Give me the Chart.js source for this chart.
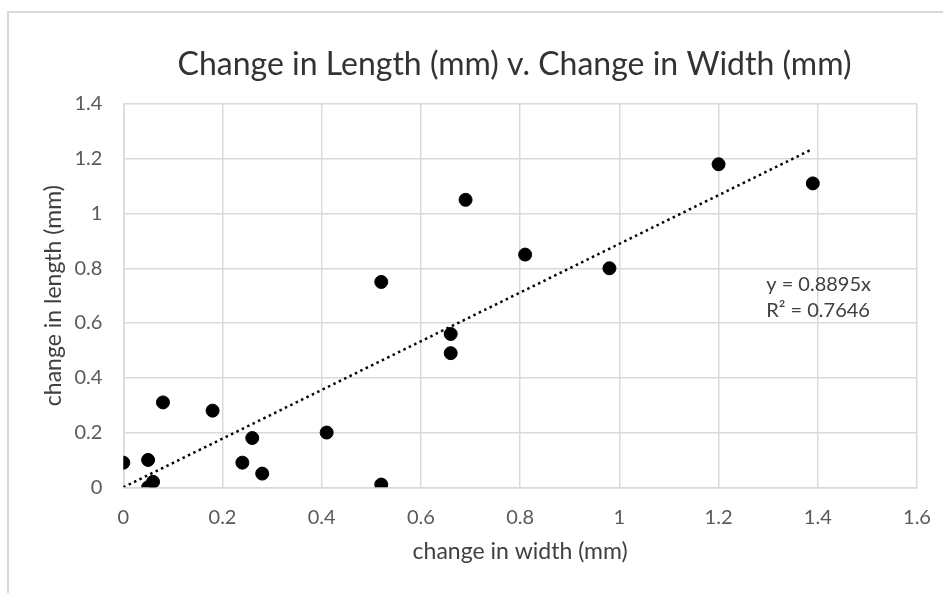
<!DOCTYPE html>
<html>
<head>
<meta charset="utf-8">
<script src="https://cdn.jsdelivr.net/npm/chart.js@4.4.0/dist/chart.umd.min.js"></script>
<style>
    html, body { margin: 0; padding: 0; background: #fff; overflow: hidden; }
    #frame {
        position: absolute; left: 7px; top: 11px; width: 960px; height: 600px;
        border-left: 2px solid #d9d9d9; border-top: 2px solid #d9d9d9;
    }
    #wrap { position: absolute; left: 0; top: 0; width: 943px; height: 593px; }
</style>
</head>
<body>
<div id="frame"></div>
<div id="wrap"><canvas id="scatterChart" width="943" height="593"></canvas></div>
<script>
// --- DATA ---
const widthChange  = [0, 0.05, 0.05, 0.06, 0.08, 0.18, 0.24, 0.26, 0.28, 0.41, 0.52, 0.52, 0.66, 0.66, 0.69, 0.81, 0.98, 1.20, 1.39];
const lengthChange = [0.09, 0.10, 0.00, 0.02, 0.31, 0.28, 0.09, 0.18, 0.05, 0.20, 0.75, 0.01, 0.56, 0.49, 1.05, 0.85, 0.80, 1.18, 1.11];

// linear trendline (through origin), ends
const trendX = [0, 1.39];
const trendY = [0, 1.236];

const xTickLabels = ['0', '0.2', '0.4', '0.6', '0.8', '1', '1.2', '1.4', '1.6'];
const yTickLabels = ['0', '0.2', '0.4', '0.6', '0.8', '1', '1.2', '1.4'];

const chartTitle = 'Change in Length (mm) v. Change in Width (mm)';
const equationLines = ['y = 0.8895x', 'R\u00B2 = 0.7646'];
const equationAt = { x: 1.296, y: [0.742, 0.647] };

const FONT = "Lato, 'Open Sans', sans-serif";

// --- PLUGIN: title + trendline equation text ---
const textLabels = {
    id: 'textLabels',
    afterDatasetsDraw(chart) {
        const { ctx, scales } = chart;
        ctx.save();
        // title (Excel centres it a bit left of the plot centre)
        ctx.font = "32px " + FONT;
        ctx.fillStyle = '#333';
        ctx.textAlign = 'center';
        ctx.textBaseline = 'middle';
        ctx.fillText(chartTitle, 514.5, 65);

        ctx.font = "20px " + FONT;
        ctx.fillStyle = '#404040';
        ctx.textAlign = 'left';
        equationLines.forEach((line, i) => {
            ctx.fillText(line, scales.x.getPixelForValue(equationAt.x), scales.y.getPixelForValue(equationAt.y[i]));
        });
        ctx.restore();
    }
};

// --- CHART ---
const ctx = document.getElementById('scatterChart').getContext('2d');
const gridStyle = { color: '#d9d9d9', lineWidth: 1.5, drawTicks: false };

new Chart(ctx, {
    type: 'scatter',
    data: {
        datasets: [{
            label: 'change',
            data: widthChange.map((w, i) => ({ x: w, y: lengthChange[i] })),
            backgroundColor: '#000',
            borderColor: '#000',
            pointRadius: 6.5,
            pointHoverRadius: 6.5
        }, {
            label: 'trend',
            type: 'line',
            data: trendX.map((x, i) => ({ x: x, y: trendY[i] })),
            borderColor: '#000',
            borderWidth: 2.5,
            borderDash: [2.5, 3.5],
            pointRadius: 0,
            fill: false
        }]
    },
    options: {
        responsive: false,
        animation: false,
        layout: { autoPadding: false, padding: { left: 0, right: 26, top: 104, bottom: 0 } },
        plugins: {
            legend: { display: false },
            tooltip: { enabled: false },
            title: { display: false }
        },
        scales: {
            x: {
                type: 'linear',
                min: 0, max: 1.6,
                grid: gridStyle,
                border: { color: '#d9d9d9', width: 1.5 },
                ticks: {
                    stepSize: 0.2,
                    padding: 18,
                    color: '#595959',
                    font: { family: FONT, size: 20 },
                    callback: (v, i) => xTickLabels[i]
                },
                title: {
                    display: true,
                    text: 'change in width (mm)',
                    color: '#404040',
                    font: { family: FONT, size: 23 },
                    padding: { top: 0, bottom: 27.5 }
                },
                afterFit(scale) {
                    scale.height = 105.7;
                    scale.paddingLeft = 0;
                    scale.paddingRight = 0;
                }
            },
            y: {
                type: 'linear',
                min: 0, max: 1.4,
                grid: gridStyle,
                border: { color: '#d9d9d9', width: 1.5 },
                ticks: {
                    stepSize: 0.2,
                    padding: 21,
                    color: '#595959',
                    font: { family: FONT, size: 20 },
                    callback: (v, i) => yTickLabels[i]
                },
                title: {
                    display: true,
                    text: 'change in length (mm)',
                    color: '#404040',
                    font: { family: FONT, size: 23 },
                    padding: { top: 40, bottom: 0 }
                },
                afterFit(scale) {
                    scale.width = 123.3;
                    scale.paddingTop = 0;
                    scale.paddingBottom = 0;
                }
            }
        }
    },
    plugins: [textLabels]
});
</script>
</body>
</html>
